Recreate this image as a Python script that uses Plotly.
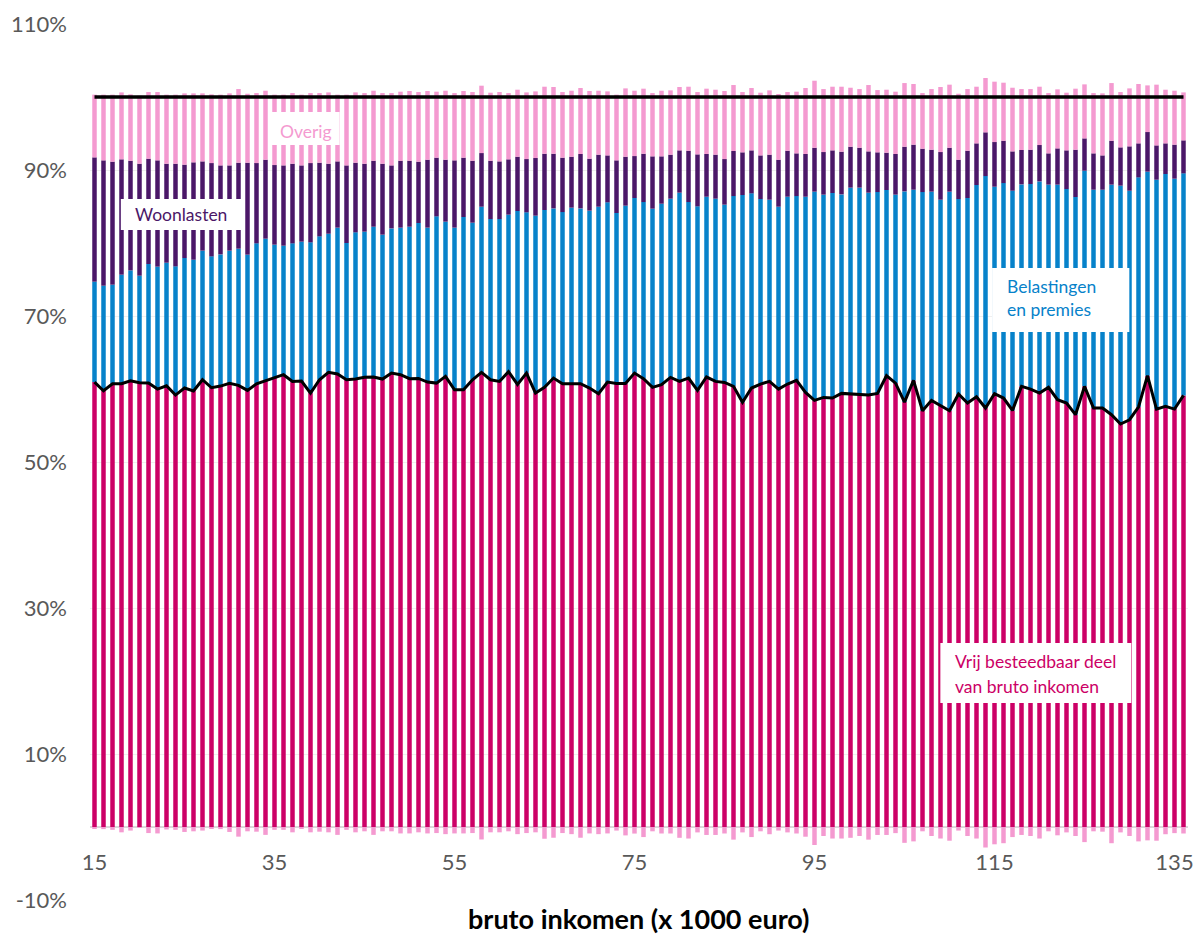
import plotly.graph_objects as go

# bruto inkomen (x 1000 euro)
incomes = list(range(15, 137))

# cumulative levels (% of bruto inkomen)
vrij_top = [60.95, 59.76, 60.72, 60.72, 61.13, 60.86, 60.81, 59.99, 60.45, 59.17,
            60.13, 59.72, 61.27, 60.17, 60.40, 60.77, 60.50, 59.81, 60.72, 61.13,
            61.59, 61.96, 61.04, 61.09, 59.44, 61.27, 62.28, 62.05, 61.27, 61.36,
            61.60, 61.64, 61.36, 62.18, 61.96, 61.41, 61.45, 60.95, 60.81, 61.73,
            59.90, 59.90, 61.27, 62.28, 61.27, 61.04, 62.37, 60.63, 62.18, 59.44,
            60.22, 61.50, 60.72, 60.72, 60.72, 60.13, 59.35, 60.95, 60.77, 60.77,
            62.18, 61.41, 60.22, 60.59, 61.59, 61.04, 61.50, 59.81, 61.64, 61.04,
            60.90, 60.36, 58.17, 60.13, 60.68, 61.04, 59.99, 60.68, 61.18, 59.54,
            58.44, 58.85, 58.76, 59.40, 59.31, 59.26, 59.17, 59.40, 61.82, 60.81,
            58.21, 61.18, 57.02, 58.44, 57.71, 57.02, 59.31, 58.07, 58.94, 57.39,
            59.35, 58.76, 57.07, 60.36, 59.99, 59.44, 60.22, 58.53, 58.07, 56.48,
            60.36, 57.39, 57.39, 56.48, 55.20, 55.79, 57.53, 61.82, 57.25, 57.62,
            57.25, 59.12]

belasting_top = [74.70, 74.15, 74.29, 75.66, 76.25, 75.52, 77.12, 76.76, 77.30, 76.80,
                 77.94, 77.71, 78.95, 78.17, 78.44, 78.95, 79.22, 78.40, 79.95, 80.59,
                 79.77, 79.63, 79.95, 80.18, 80.09, 80.91, 81.27, 82.10, 80.00, 81.46,
                 81.55, 82.23, 81.14, 82.00, 82.10, 82.23, 82.74, 82.10, 83.65, 82.92,
                 82.10, 83.56, 82.78, 84.97, 83.28, 83.28, 83.88, 84.38, 84.20, 83.74,
                 84.52, 84.74, 84.24, 84.84, 84.74, 84.43, 84.97, 85.57, 84.11, 85.11,
                 86.16, 85.61, 84.70, 85.38, 86.07, 86.89, 85.61, 85.02, 86.34, 86.07,
                 85.25, 86.43, 86.57, 86.80, 86.02, 85.93, 84.97, 86.34, 86.43, 86.34,
                 87.03, 86.62, 86.85, 86.66, 87.58, 87.58, 86.89, 86.98, 87.26, 86.62,
                 87.07, 87.30, 86.98, 87.03, 85.93, 87.03, 86.02, 86.16, 87.94, 89.17,
                 87.71, 88.21, 87.16, 88.03, 88.08, 88.44, 87.99, 87.99, 87.39, 86.30,
                 89.90, 87.30, 87.30, 87.99, 87.85, 87.16, 88.99, 89.77, 88.67, 89.45,
                 88.81, 89.54]

woon_top = [91.73, 91.32, 91.14, 91.46, 91.27, 90.86, 91.55, 91.32, 90.86, 90.86,
            90.73, 91.05, 91.18, 90.95, 90.63, 90.63, 91.00, 91.00, 90.95, 91.41,
            90.68, 90.63, 90.86, 90.63, 90.95, 91.00, 90.86, 91.18, 90.63, 91.00,
            90.86, 91.27, 90.86, 90.63, 91.27, 91.27, 91.14, 91.41, 91.69, 91.41,
            91.32, 91.69, 91.27, 92.32, 91.27, 91.18, 91.46, 91.82, 91.50, 91.64,
            92.23, 92.23, 91.69, 91.82, 92.19, 91.55, 92.10, 92.00, 91.32, 91.82,
            91.91, 92.23, 91.87, 91.87, 92.10, 92.69, 92.64, 92.14, 92.19, 92.10,
            91.50, 92.60, 92.42, 92.69, 92.00, 92.10, 91.41, 92.64, 92.28, 92.19,
            93.05, 92.46, 92.69, 92.51, 93.19, 93.05, 92.55, 92.42, 92.37, 92.19,
            93.19, 93.47, 92.92, 92.78, 92.46, 93.05, 91.41, 92.64, 93.65, 95.16,
            93.83, 94.01, 92.55, 92.74, 92.78, 93.42, 92.28, 92.96, 92.69, 92.78,
            94.33, 92.28, 92.00, 94.01, 93.10, 93.24, 93.65, 95.20, 93.37, 93.65,
            93.47, 94.06]

overig_top = [100.32, 100.32, 100.32, 100.63, 100.36, 100.18, 100.68, 100.68, 100.32, 100.32,
              100.50, 100.50, 100.50, 100.36, 100.32, 100.50, 101.09, 100.45, 100.54, 100.86,
              100.32, 100.32, 100.54, 100.32, 100.54, 100.54, 100.63, 100.32, 100.32, 100.63,
              100.54, 100.86, 100.54, 100.54, 100.73, 100.82, 100.68, 100.82, 100.73, 100.86,
              100.54, 100.82, 100.68, 101.55, 100.59, 100.68, 100.54, 101.00, 100.63, 100.77,
              101.41, 101.37, 100.68, 100.86, 101.23, 100.82, 100.86, 100.77, 100.32, 101.18,
              100.86, 101.14, 100.54, 100.86, 100.91, 101.37, 101.41, 100.68, 101.14, 101.00,
              100.82, 101.64, 100.68, 101.23, 100.59, 100.91, 100.41, 100.68, 100.73, 101.23,
              102.23, 101.09, 101.41, 101.41, 101.27, 101.09, 101.64, 100.95, 101.00, 100.73,
              101.91, 101.78, 100.54, 101.09, 101.37, 101.69, 100.45, 101.09, 101.41, 102.60,
              102.10, 101.96, 101.27, 101.09, 101.09, 101.41, 100.54, 101.05, 100.59, 101.14,
              101.73, 100.54, 100.50, 101.91, 100.68, 101.18, 101.78, 101.59, 101.69, 101.00,
              100.86, 100.63]

# negative part of "Overig" (below zero)
overig_neg = [-0.20, -0.29, -0.39, -0.73, -0.49, -0.10, -0.83, -0.88, -0.34, -0.39,
              -0.68, -0.59, -0.49, -0.24, -0.29, -0.68, -1.32, -0.59, -0.64, -1.08,
              -0.39, -0.39, -0.73, -0.24, -0.73, -0.64, -0.73, -1.08, -0.39, -0.73,
              -0.59, -1.08, -0.59, -0.59, -0.88, -0.88, -0.73, -0.88, -0.83, -0.98,
              -0.88, -0.88, -0.83, -1.71, -0.73, -0.73, -0.59, -0.98, -0.83, -0.73,
              -1.61, -1.47, -0.83, -0.98, -1.47, -0.88, -0.98, -0.88, -0.49, -1.15,
              -0.90, -1.38, -0.59, -0.89, -0.89, -1.48, -1.58, -0.74, -1.09, -1.09,
              -0.89, -1.73, -0.74, -1.38, -0.59, -0.99, -0.49, -0.74, -0.89, -1.33,
              -2.47, -1.23, -1.58, -1.58, -1.48, -1.23, -1.73, -1.09, -1.09, -0.84,
              -2.17, -1.97, -0.59, -1.23, -1.58, -1.88, -0.49, -1.23, -1.58, -2.81,
              -2.37, -2.22, -1.38, -1.09, -1.23, -1.58, -0.59, -1.14, -0.74, -1.23,
              -2.07, -0.59, -0.64, -2.22, -0.74, -1.23, -1.97, -1.83, -1.88, -0.99,
              -0.84, -0.89]

reference_level = 100
y_ticks = [-10, 10, 30, 50, 70, 90, 110]
y_ticktext = ["-10%", "10%", "30%", "50%", "70%", "90%", "110%"]
x_ticks = [15, 35, 55, 75, 95, 115, 135]

# segment heights for the stacked bars
vrij = vrij_top
belasting = [b - v for b, v in zip(belasting_top, vrij_top)]
woon = [w - b for w, b in zip(woon_top, belasting_top)]
overig = [o - w for o, w in zip(overig_top, woon_top)]

C_VRIJ = "#CC0066"
C_BEL = "#0782CA"
C_WOON = "#4B1768"
C_OVERIG = "#F49AD0"
FONT = "Lato"
GREY = "#595959"

fig = go.Figure()
for name, vals, col in [("Vrij besteedbaar deel van bruto inkomen", vrij, C_VRIJ),
                        ("Belastingen en premies", belasting, C_BEL),
                        ("Woonlasten", woon, C_WOON),
                        ("Overig", overig, C_OVERIG),
                        ("Overig (negatief)", overig_neg, C_OVERIG)]:
    fig.add_trace(go.Bar(x=incomes, y=vals, name=name, marker=dict(color=col, line=dict(width=0)),
                         showlegend=False))

fig.add_trace(go.Scatter(x=incomes, y=vrij_top, mode="lines", line=dict(color="black", width=3),
                         showlegend=False))
fig.add_trace(go.Scatter(x=[incomes[0], incomes[-1]], y=[reference_level, reference_level],
                         mode="lines", line=dict(color="black", width=3.5), showlegend=False))

W, H = 1200, 938
L, R, T, B = 90, 6, 24, 38
PW, PH = W - L - R, H - T - B


def px(xp):
    return (xp - L) / PW


def py(yp):
    return (H - B - yp) / PH


shapes = []
annotations = []
boxes = [(273, 112, 341, 145), (121, 199, 242, 230), (997, 268, 1135, 332), (945, 643, 1137, 703)]
for x0, y0, x1, y1 in boxes:
    shapes.append(dict(type="rect", xref="paper", yref="paper", x0=px(x0), x1=px(x1), y0=py(y1), y1=py(y0),
                       fillcolor="white", line=dict(width=0), layer="above"))

labels = [
    ("Overig", 307, 131, "center", C_OVERIG),
    ("Woonlasten", 181, 214, "center", C_WOON),
    ("Belastingen", 1010, 286, "left", C_BEL),
    ("en premies", 1010, 309, "left", C_BEL),
    ("Vrij besteedbaar deel", 958, 661, "left", C_VRIJ),
    ("van bruto inkomen", 958, 686, "left", C_VRIJ),
]
for text, xp_, yp_, anchor, col in labels:
    annotations.append(dict(text=text, xref="paper", yref="paper", x=px(xp_), y=py(yp_),
                            xanchor=anchor, yanchor="middle", showarrow=False,
                            font=dict(family=FONT, size=17.5, color=col)))

annotations.append(dict(text="<b>bruto inkomen (x 1000 euro)</b>", xref="paper", yref="paper",
                        x=0.5, y=py(919), xanchor="center", yanchor="middle", showarrow=False,
                        font=dict(family=FONT, size=27, color="black")))

fig.update_layout(
    width=W, height=H,
    margin=dict(l=L, r=R, t=T, b=B),
    barmode="relative",
    bargap=0.5,
    plot_bgcolor="white",
    paper_bgcolor="white",
    font=dict(family=FONT, color=GREY),
    shapes=shapes,
    annotations=annotations,
    xaxis=dict(range=[14.5, 136.5], tickmode="array", tickvals=x_ticks,
               anchor="free", position=10 / 120, showline=True, linecolor="#D9D9D9", linewidth=1.5,
               showgrid=False, zeroline=False, ticks="", ticklabelstandoff=16,
               tickfont=dict(family=FONT, size=22, color=GREY), layer="below traces"),
    yaxis=dict(range=[-10, 110], tickmode="array", tickvals=y_ticks, ticktext=y_ticktext,
               showgrid=True, gridcolor="#EFEFEF", gridwidth=1, zeroline=False, showline=False,
               ticks="", ticklabelstandoff=22, tickfont=dict(family=FONT, size=22, color=GREY)),
)

fig.write_html("out.html", config={"displayModeBar": False},
               post_script="document.body.style.margin='0px';document.body.style.overflow='hidden';")
